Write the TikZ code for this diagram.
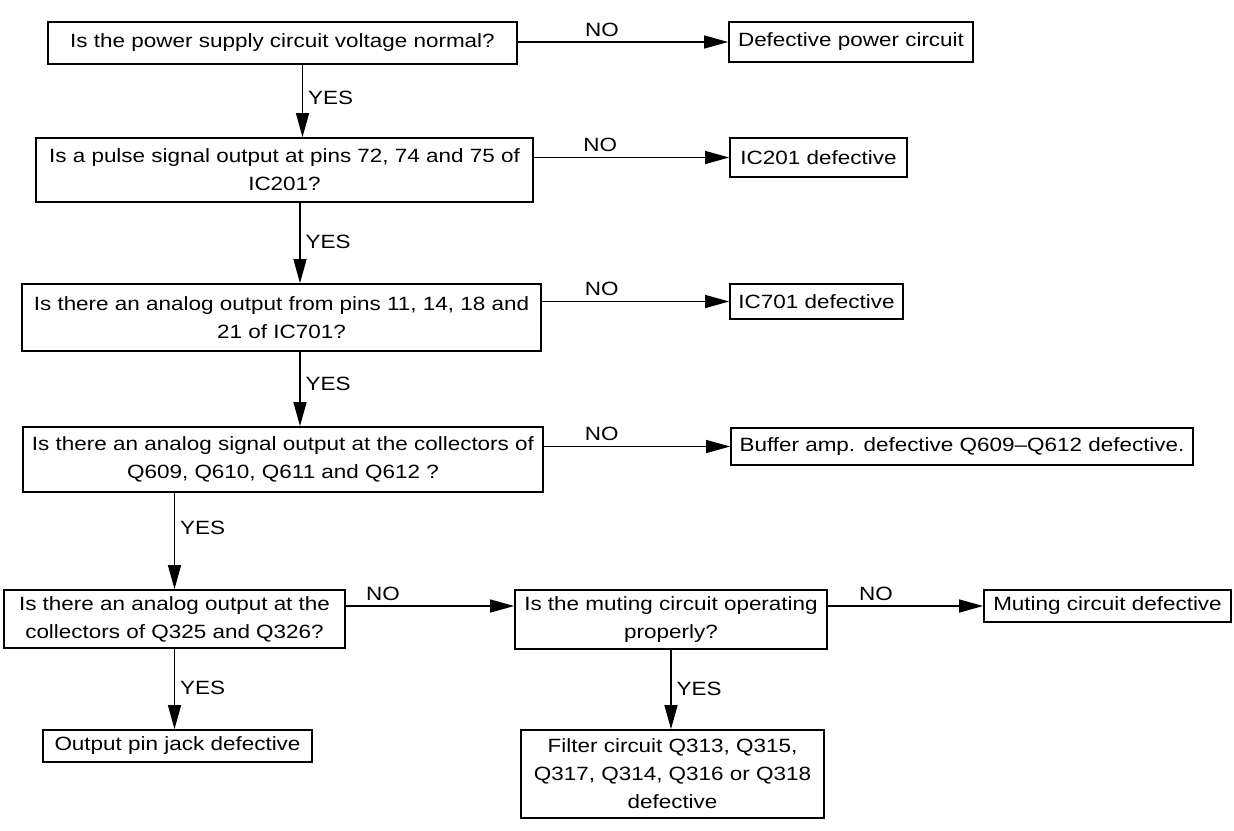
\documentclass[tikz,border=0pt]{standalone}
\usepackage{fontspec}
\setmainfont[FakeStretch=1.17]{Liberation Sans}
\usetikzlibrary{arrows.meta}

\begin{document}
\begin{tikzpicture}[x=0.5pt,y=-0.5pt,
  box/.style={draw, line width=0.9pt, align=center, inner sep=0pt,
    font=\fontsize{9.6}{14}\selectfont},
  arr/.style={line width=0.7pt, -{Triangle[length=12pt,width=6.5pt]}},
  lbl/.style={font=\fontsize{9.6}{14}\selectfont, inner sep=2.5pt}]
  \useasboundingbox (0,0) rectangle (1234,830);

  \node[box, minimum width=234.5pt, minimum height=21pt] (q1) at (282.5,43)
    {Is the power supply circuit voltage normal?};
  \node[box, minimum width=122pt, minimum height=20pt] (d1) at (851,42)
    {Defective power circuit};

  \node[box, minimum width=248.5pt, minimum height=32pt] (q2) at (284.5,170)
    {Is a pulse signal output at pins 72, 74 and 75 of\\IC201?};
  \node[box, minimum width=88.5pt, minimum height=19.5pt] (d2) at (818.5,157.5)
    {IC201 defective};

  \node[box, minimum width=259.5pt, minimum height=33.5pt] (q3) at (281.5,317.5)
    {Is there an analog output from pins 11, 14, 18 and\\21 of IC701?};
  \node[box, minimum width=86.5pt, minimum height=17.5pt] (d3) at (816.5,301.5)
    {IC701 defective};

  \node[box, minimum width=260pt, minimum height=32.5pt] (q4) at (283,459.5)
    {Is there an analog signal output at the collectors of\\Q609, Q610, Q611 and Q612 ?};
  \node[box, minimum width=231pt, minimum height=18.5pt] (d4) at (962,446.5)
    {Buffer amp. defective Q609–Q612 defective.};

  \node[box, minimum width=170.5pt, minimum height=29pt] (q5) at (174.5,619)
    {Is there an analog output at the\\collectors of Q325 and Q326?};
  \node[box, minimum width=156pt, minimum height=29.5pt] (q6) at (671,619.5)
    {Is the muting circuit operating\\properly?};
  \node[box, minimum width=123.5pt, minimum height=16pt] (d6) at (1107.5,606)
    {Muting circuit defective};

  \node[box, minimum width=134.5pt, minimum height=16pt] (d5) at (177.5,746)
    {Output pin jack defective};
  \node[box, minimum width=151.5pt, minimum height=44pt] (d7) at (672.5,774)
    {Filter circuit Q313, Q315,\\Q317, Q314, Q316 or Q318\\defective};

  \draw[arr] (q1.east |- d1.west) -- (d1.west) node[lbl, above, pos=0.4] {NO};
  \draw[arr] (q2.east |- d2.west) -- (d2.west) node[lbl, above, pos=0.34] {NO};
  \draw[arr] (q3.east |- d3.west) -- (d3.west) node[lbl, above, pos=0.32] {NO};
  \draw[arr] (q4.east |- d4.west) -- (d4.west) node[lbl, above, pos=0.31] {NO};
  \draw[arr] (q5.east |- d6.west) -- (q6.west |- d6.west) node[lbl, above, pos=0.22] {NO};
  \draw[arr] (q6.east |- d6.west) -- (d6.west) node[lbl, above, pos=0.31] {NO};

  \draw[arr] ([xshift=10pt]q1.south) coordinate (s1) -- (s1 |- q2.north)
    node[lbl, right, pos=0.45] {YES};
  \draw[arr] ([xshift=7.75pt]q2.south) coordinate (s2) -- (s2 |- q3.north)
    node[lbl, right, pos=0.48] {YES};
  \draw[arr] ([xshift=9.25pt]q3.south) coordinate (s3) -- (s3 |- q4.north)
    node[lbl, right, pos=0.43] {YES};
  \draw[arr] (q5.north |- q4.south) -- (q5.north) node[lbl, right, pos=0.36] {YES};
  \draw[arr] (q5.south) -- (q5.south |- d5.north) node[lbl, right, pos=0.49] {YES};
  \draw[arr] (q6.south) -- (q6.south |- d7.north) node[lbl, right, pos=0.49] {YES};
\end{tikzpicture}
\end{document}
